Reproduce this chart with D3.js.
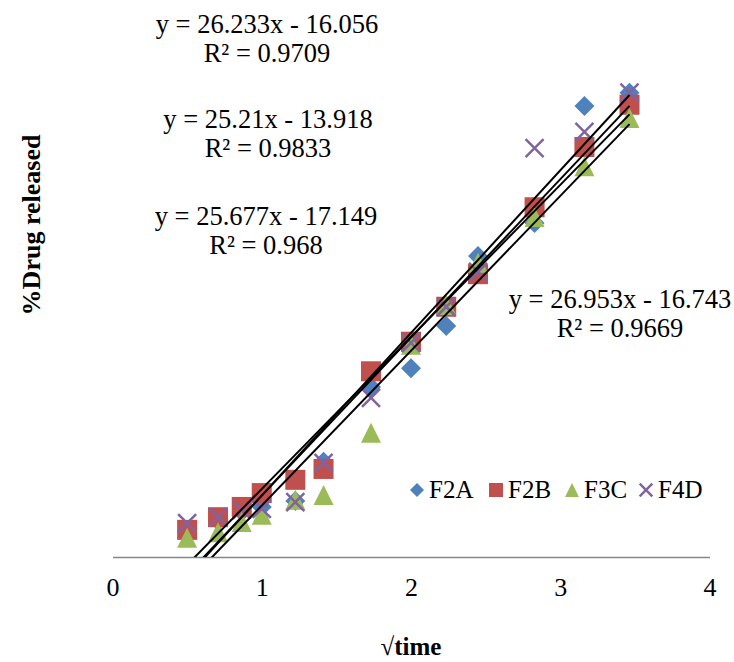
<!DOCTYPE html>
<html><head><meta charset="utf-8">
<script src="https://cdn.jsdelivr.net/npm/d3@7"></script>
<style>body{margin:0;background:#fff}svg{display:block}text{font-family:"Liberation Serif","Times New Roman",serif;fill:#000}</style>
</head><body><svg id="c" width="734" height="662"></svg>
<script>
const xValues = [0.5, 0.707, 0.866, 1, 1.225, 1.414, 1.732, 2, 2.236, 2.449, 2.828, 3.162, 3.464];
const seriesNames = ["F2A", "F2B", "F3C", "F4D"];
const F2A = [4.3, 6.0, 7.5, 8.3, 9.3, 15.8, 28.2, 31.3, 38.3, 49.9, 55.4, 74.8, 77.0];
const F2B = [4.5, 6.6, 8.3, 10.6, 12.8, 14.6, 30.8, 35.7, 41.5, 46.9, 58.0, 68.0, 75.0];
const F3C = [3.2, 4.1, 5.8, 7.0, 9.5, 10.3, 20.6, 35.2, 41.8, 48.8, 56.4, 64.8, 72.8];
const F4D = [5.6, 6.6, 7.8, 8.0, 9.1, 15.6, 26.4, 35.5, 41.5, 47.3, 67.8, 70.5, 77.0];
const slopes = [26.233, 25.21, 25.677, 26.953];
const intercepts = [-16.056, -13.918, -17.149, -16.743];
const r2 = ["0.9709", "0.9833", "0.968", "0.9669"];
const eqLabels = ["y = 26.233x - 16.056", "y = 25.21x - 13.918", "y = 25.677x - 17.149", "y = 26.953x - 16.743"];
const xTicks = [0, 1, 2, 3, 4];
const colors = ["#4F81BD", "#C0504D", "#9BBB59", "#8064A2"];
const seriesValues = [F2A, F2B, F3C, F4D];

const svg = d3.select("#c");
const x = d3.scaleLinear().domain([0, 4]).range([112.5, 709.5]);
const y = d3.scaleLinear().domain([0, 80]).range([557, 557 - 80 * 6.03]);

svg.append("clipPath").attr("id", "pa").append("rect")
  .attr("x", x(0)).attr("y", 0).attr("width", x(4) - x(0)).attr("height", y(0));

const xAxis = d3.axisBottom(x).tickValues(xTicks).tickSize(0).tickPadding(21).tickFormat(d3.format("d"));
const ax = svg.append("g").attr("transform", `translate(0,${y(0)})`).call(xAxis);
ax.select(".domain").attr("stroke", "#868686").attr("stroke-width", 1.5);
ax.selectAll("text").style("font-size", "26px").style("font-family", "'Liberation Serif', serif").attr("fill", "#000");

function marker(g, type, cx, cy, color, s) {
  if (type === 0) {
    g.append("path").attr("d", `M${cx},${cy - s}L${cx + s},${cy}L${cx},${cy + s}L${cx - s},${cy}Z`).attr("fill", color);
  } else if (type === 1) {
    g.append("rect").attr("x", cx - s).attr("y", cy - s).attr("width", 2 * s).attr("height", 2 * s).attr("fill", color);
  } else if (type === 2) {
    g.append("path").attr("d", `M${cx},${cy - s}L${cx + s},${cy + s}L${cx - s},${cy + s}Z`).attr("fill", color);
  } else {
    g.append("path").attr("d", `M${cx - s * 0.9},${cy - s * 0.9}L${cx + s * 0.9},${cy + s * 0.9}M${cx - s * 0.9},${cy + s * 0.9}L${cx + s * 0.9},${cy - s * 0.9}`)
      .attr("stroke", color).attr("stroke-width", 2.5).attr("fill", "none");
  }
}

const pts = svg.append("g");
seriesValues.forEach((vals, i) => {
  const g = pts.append("g");
  vals.forEach((v, j) => marker(g, i, x(xValues[j]), y(v), colors[i], 10));
});

const tl = svg.append("g").attr("clip-path", "url(#pa)");
const x0 = d3.min(xValues), x1 = d3.max(xValues);
slopes.forEach((m, i) => {
  tl.append("line")
    .attr("x1", x(x0)).attr("y1", y(m * x0 + intercepts[i]))
    .attr("x2", x(x1)).attr("y2", y(m * x1 + intercepts[i]))
    .attr("stroke", "#000").attr("stroke-width", 2);
});

const eqPos = [[267, 33], [268, 128], [266, 225], [620, 308]];
eqLabels.forEach((t, i) => {
  const [cx, by] = eqPos[i];
  const tg = svg.append("text").attr("text-anchor", "middle").attr("font-size", 26.5);
  tg.append("tspan").attr("x", cx).attr("y", by).text(t);
  tg.append("tspan").attr("x", cx).attr("y", by + 29).text("R² = " + r2[i]);
});

const legX = [417, 496, 572, 646];
seriesNames.forEach((n, i) => {
  const g = svg.append("g");
  marker(g, i, legX[i], 490, colors[i], 7);
  g.append("text").attr("x", legX[i] + 12).attr("y", 498).attr("font-size", 25).text(n);
});

svg.append("text").attr("x", x(2)).attr("y", 655).attr("text-anchor", "middle")
  .attr("font-size", 25).attr("font-weight", "bold").text("√time");
svg.append("text").attr("transform", "translate(40,225) rotate(-90)").attr("text-anchor", "middle")
  .attr("font-size", 26).attr("font-weight", "bold").text("%Drug released");
</script></body></html>
